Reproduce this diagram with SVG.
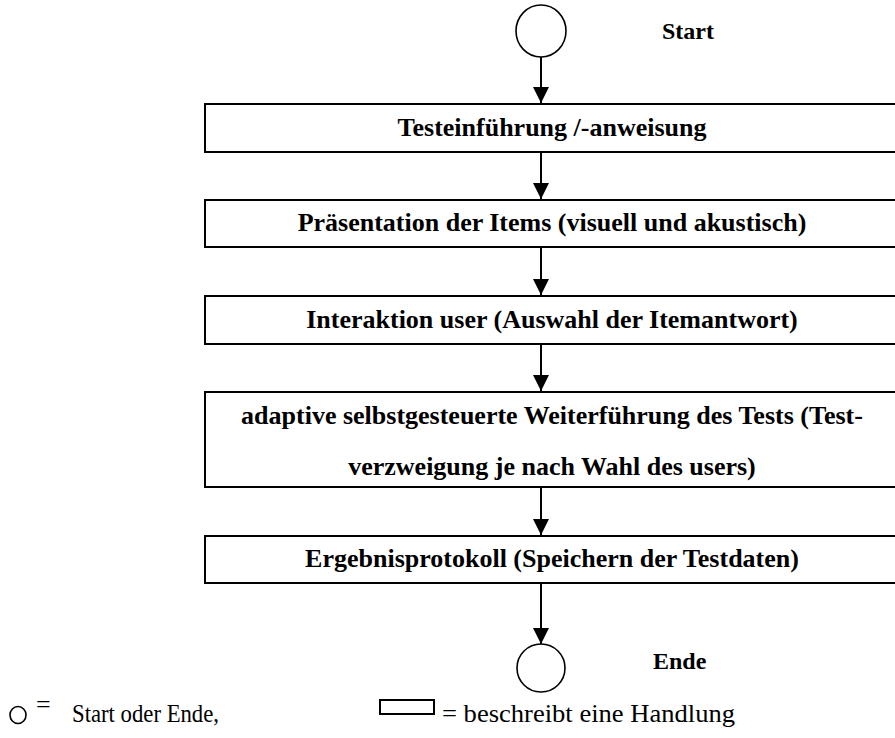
<svg xmlns="http://www.w3.org/2000/svg" width="895" height="738" viewBox="0 0 895 738">
  <style>
    .box { fill: #ffffff; stroke: #000000; stroke-width: 2; }
    .term { fill: #ffffff; stroke: #000000; stroke-width: 1.6; }
    .lbl { font-family: "Liberation Serif", "Times New Roman", serif; font-weight: bold; font-size: 26px; fill: #000000; text-anchor: middle; }
    .side { font-family: "Liberation Serif", "Times New Roman", serif; font-weight: bold; font-size: 24px; fill: #000000; }
    .legend { font-family: "Liberation Serif", "Times New Roman", serif; font-size: 26px; fill: #000000; }
    .flow { stroke: #000000; stroke-width: 2; fill: none; marker-end: url(#arrow); }
  </style>
  <defs>
    <marker id="arrow" viewBox="0 0 16 16" refX="16" refY="8" markerWidth="16" markerHeight="16" markerUnits="userSpaceOnUse" orient="auto">
      <path d="M0,0 L16,8 L0,16 Z" fill="#000000"/>
    </marker>
  </defs>

  <!-- connectors -->
  <g id="connectors">
    <line class="flow" x1="541" y1="57" x2="541" y2="103"/>
    <line class="flow" x1="541" y1="152" x2="541" y2="199"/>
    <line class="flow" x1="541" y1="248" x2="541" y2="295"/>
    <line class="flow" x1="541" y1="344" x2="541" y2="391"/>
    <line class="flow" x1="541" y1="487" x2="541" y2="535"/>
    <line class="flow" x1="541" y1="583" x2="541" y2="644"/>
  </g>

  <!-- start terminal -->
  <g id="start">
    <ellipse class="term" cx="541" cy="31" rx="25" ry="26"/>
    <text class="side" x="662" y="39">Start</text>
  </g>

  <!-- process steps -->
  <g id="step1">
    <rect class="box" x="205" y="104" width="700" height="48"/>
    <text class="lbl" x="552" y="136">Testeinführung /-anweisung</text>
  </g>
  <g id="step2">
    <rect class="box" x="205" y="200" width="700" height="47"/>
    <text class="lbl" x="552" y="231">Präsentation der Items (visuell und akustisch)</text>
  </g>
  <g id="step3">
    <rect class="box" x="205" y="296" width="700" height="48"/>
    <text class="lbl" x="552" y="328">Interaktion user (Auswahl der Itemantwort)</text>
  </g>
  <g id="step4">
    <rect class="box" x="205" y="392" width="700" height="95"/>
    <text class="lbl" x="552" y="424">adaptive selbstgesteuerte Weiterführung des Tests (Test-</text>
    <text class="lbl" x="552" y="475">verzweigung je nach Wahl des users)</text>
  </g>
  <g id="step5">
    <rect class="box" x="205" y="536" width="700" height="47"/>
    <text class="lbl" x="552" y="567">Ergebnisprotokoll (Speichern der Testdaten)</text>
  </g>

  <!-- end terminal -->
  <g id="end">
    <ellipse class="term" cx="541" cy="668" rx="24" ry="24"/>
    <text class="side" x="653" y="669">Ende</text>
  </g>

  <!-- legend -->
  <g id="legend">
    <ellipse class="term" cx="18" cy="715" rx="8" ry="8.5" stroke-width="1.3"/>
    <text class="legend" x="36" y="713" font-size="22">=</text>
    <text class="legend" x="72" y="722" font-size="24" textLength="147" lengthAdjust="spacingAndGlyphs">Start oder Ende,</text>
    <rect class="box" x="380" y="700" width="54" height="14" stroke-width="1.5"/>
    <text class="legend" x="442" y="722" textLength="293" lengthAdjust="spacingAndGlyphs">= beschreibt eine Handlung</text>
  </g>
</svg>
